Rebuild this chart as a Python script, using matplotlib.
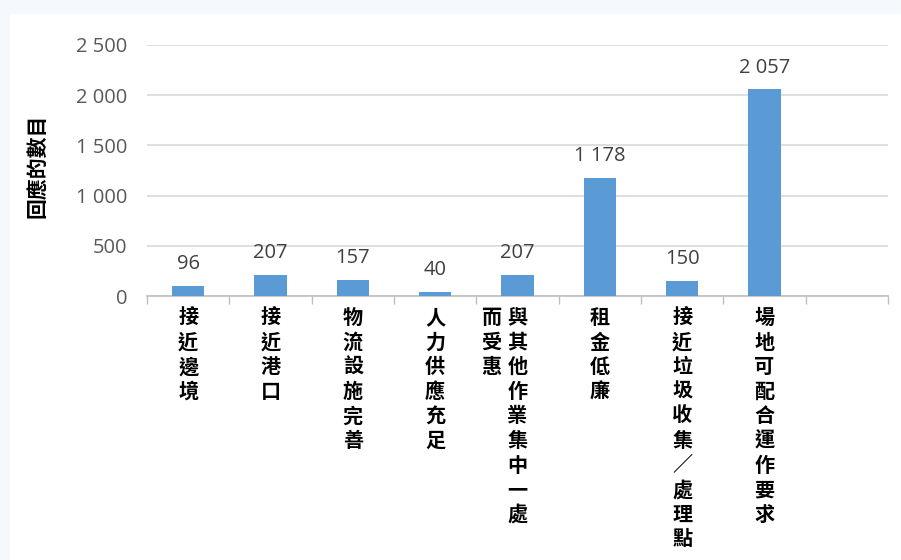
import matplotlib
matplotlib.use("Agg")
import matplotlib.pyplot as plt
from matplotlib.patches import Rectangle

# Survey responses by reason for choosing a site
categories = [
    ["接近邊境"],
    ["接近港口"],
    ["物流設施完善"],
    ["人力供應充足"],
    ["與其他作業集中一處", "而受惠"],
    ["租金低廉"],
    ["接近垃圾收集／處理點"],
    ["場地可配合運作要求"],
    [""],
]
responses = [96, 207, 157, 40, 207, 1178, 150, 2057, None]
y_ticks = [0, 500, 1000, 1500, 2000, 2500]
y_label = "回應的數目"

BAR = "#5b9bd5"
GRID = "#d9d9d9"
TICK_TXT = "#595959"
VAL_TXT = "#404040"
NUM_FONT = ["Open Sans", "DejaVu Sans"]
CJK_FONT = ["Noto Sans CJK TC", "DejaVu Sans"]

W, H, DPI = 901, 560, 100
fig = plt.figure(figsize=(W / DPI, H / DPI), dpi=DPI)
fig.patch.set_facecolor("#f5f9fe")
fig.add_artist(Rectangle((10 / W, 0), 1 - 10 / W, (H - 14) / H,
                         transform=fig.transFigure, facecolor="white",
                         edgecolor="none", zorder=0))

ax = fig.add_axes([147 / W, (H - 296) / H, (888 - 147) / W, (296 - 45) / H])
ax.set_facecolor("none")

n = len(categories)
xs = list(range(n))
bar_x = [x for x, v in zip(xs, responses) if v is not None]
bar_v = [v for v in responses if v is not None]
ax.bar(bar_x, bar_v, width=0.39, color=BAR, zorder=3)

ax.set_xlim(-0.5, n - 0.5)
ax.set_ylim(y_ticks[0], y_ticks[-1])
ax.set_yticks(y_ticks)
ax.set_yticklabels([f"{t:,}".replace(",", " ") for t in y_ticks],
                   fontsize=14.5, color=TICK_TXT, family=NUM_FONT)
ax.tick_params(axis="y", length=0, pad=14)
ax.yaxis.grid(True, color=GRID, linewidth=1.2, zorder=0)
ax.set_axisbelow(True)

# category boundary ticks on the x axis
ax.set_xticks([x - 0.5 for x in xs] + [n - 0.5])
ax.set_xticklabels([])
ax.tick_params(axis="x", length=6, width=1, color="#bfbfbf")

for s in ("left", "right", "top"):
    ax.spines[s].set_visible(False)
ax.spines["bottom"].set_color("#bfbfbf")
ax.spines["bottom"].set_linewidth(1.2)

# value labels above bars
for x, v in zip(bar_x, bar_v):
    ax.annotate(f"{v:,}".replace(",", " "), xy=(x, v), xytext=(0, 12.2),
                textcoords="offset points", ha="center", va="baseline",
                fontsize=14.5, color=VAL_TXT, family=NUM_FONT)

# vertical category labels: characters stacked top to bottom,
# additional columns continue to the left
char_step = 24.6 * 72 / DPI
col_step = 26 * 72 / DPI
top_off = 11 * 72 / DPI
for x, cols in zip(xs, categories):
    for c, col in enumerate(cols):
        for j, ch in enumerate(col):
            ax.annotate(ch, xy=(x, 0), xytext=(-c * col_step, -top_off - j * char_step),
                        textcoords="offset points", ha="center", va="top",
                        fontsize=14.5, fontweight="bold", color="black",
                        family=CJK_FONT, annotation_clip=False)

# rotated axis title
fig.text(37 / W, 1 - 166 / H, y_label, rotation=90, ha="center", va="center",
         fontsize=15, fontweight="bold", color="black", family=CJK_FONT)

fig.savefig("out.png", dpi=DPI, facecolor=fig.get_facecolor())
